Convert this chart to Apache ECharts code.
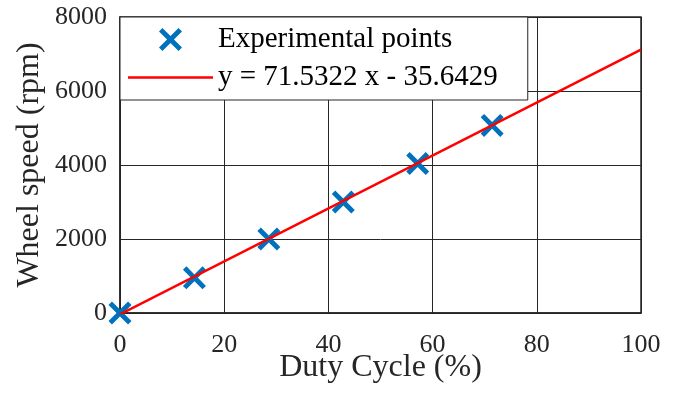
<!DOCTYPE html>
<html>
<head>
<meta charset="utf-8">
<script src="https://cdn.jsdelivr.net/npm/echarts@6/dist/echarts.min.js"></script>
<style>
  html, body { margin: 0; padding: 0; background: #fff; }
  #chart { width: 680px; height: 393px; }
</style>
</head>
<body>
<div id="chart"></div>
<script>
// Measured wheel speed versus PWM duty cycle
const dutyCycle = [0, 14.29, 28.57, 42.86, 57.14, 71.43];
const wheelSpeed = [0, 950, 2000, 3000, 4040, 5070];

// Linear fit stated in the legend
const fitSlope = 71.5322;
const fitIntercept = -35.6429;
const fitRange = [0, 100];

const xTicks = [0, 20, 40, 60, 80, 100];
const yTicks = [0, 2000, 4000, 6000, 8000];

const seriesNames = ['Experimental points', 'y = 71.5322 x - 35.6429'];

const FONT = '"Liberation Serif", "Times New Roman", serif';
const INK = '#262626';
const CROSS = 'path://M15,0 L50,35 L85,0 L100,15 L65,50 L100,85 L85,100 L50,65 L15,100 L0,85 L35,50 L0,15 Z';
const BAR = 'path://M0,0 L100,0 L100,3 L0,3 Z';

const points = dutyCycle.map((x, i) => [x, wheelSpeed[i]]);
const fitLine = fitRange.map(x => [x, fitSlope * x + fitIntercept]);

const chart = echarts.init(document.getElementById('chart'), null, { renderer: 'canvas' });

chart.setOption({
  animation: false,
  backgroundColor: '#ffffff',
  grid: {
    left: 120, right: 39, top: 17, bottom: 80,
    outerBoundsMode: 'none',
    containLabel: false,
    show: true,
    borderColor: INK,
    borderWidth: 1.5,
    backgroundColor: 'transparent'
  },
  legend: {
    orient: 'vertical',
    left: 120,
    top: 17,
    padding: [8, 30, 8, 8],
    itemGap: 9,
    itemWidth: 85,
    itemHeight: 23,
    backgroundColor: '#ffffff',
    borderColor: INK,
    borderWidth: 1,
    borderRadius: 0,
    textStyle: { fontFamily: FONT, fontSize: 29, color: '#000' },
    data: [
      { name: seriesNames[0], icon: CROSS, itemStyle: { color: '#0072BD', opacity: 1 } },
      { name: seriesNames[1], icon: BAR, itemStyle: { color: '#ff0000' } }
    ]
  },
  xAxis: {
    type: 'value',
    min: xTicks[0],
    max: xTicks[xTicks.length - 1],
    interval: xTicks[1] - xTicks[0],
    name: 'Duty Cycle (%)',
    nameLocation: 'middle',
    nameGap: 39,
    nameMoveOverlap: false,
    nameTextStyle: { fontFamily: FONT, fontSize: 32, color: INK },
    axisLine: { show: true, lineStyle: { color: INK, width: 1.5 } },
    axisTick: { show: false },
    axisLabel: { fontFamily: FONT, fontSize: 26, color: INK, margin: 19 },
    splitLine: { show: true, lineStyle: { color: INK, width: 1 } }
  },
  yAxis: {
    type: 'value',
    min: yTicks[0],
    max: yTicks[yTicks.length - 1],
    interval: yTicks[1] - yTicks[0],
    name: 'Wheel speed (rpm)',
    nameLocation: 'middle',
    nameGap: 74,
    nameMoveOverlap: false,
    nameTextStyle: { fontFamily: FONT, fontSize: 32, color: INK },
    axisLine: { show: true, lineStyle: { color: INK, width: 1.5 } },
    axisTick: { show: false },
    axisLabel: { fontFamily: FONT, fontSize: 26, color: INK, margin: 13, formatter: v => String(v) },
    splitLine: { show: true, lineStyle: { color: INK, width: 1 } }
  },
  series: [
    {
      name: seriesNames[0],
      type: 'scatter',
      data: points,
      symbol: CROSS,
      symbolSize: 23,
      itemStyle: { color: '#0072BD', opacity: 1 },
      z: 3
    },
    {
      name: seriesNames[1],
      type: 'line',
      data: fitLine,
      symbol: 'none',
      showSymbol: false,
      lineStyle: { color: '#ff0000', width: 2.5 },
      itemStyle: { color: '#ff0000' },
      z: 4
    }
  ]
});
</script>
</body>
</html>
